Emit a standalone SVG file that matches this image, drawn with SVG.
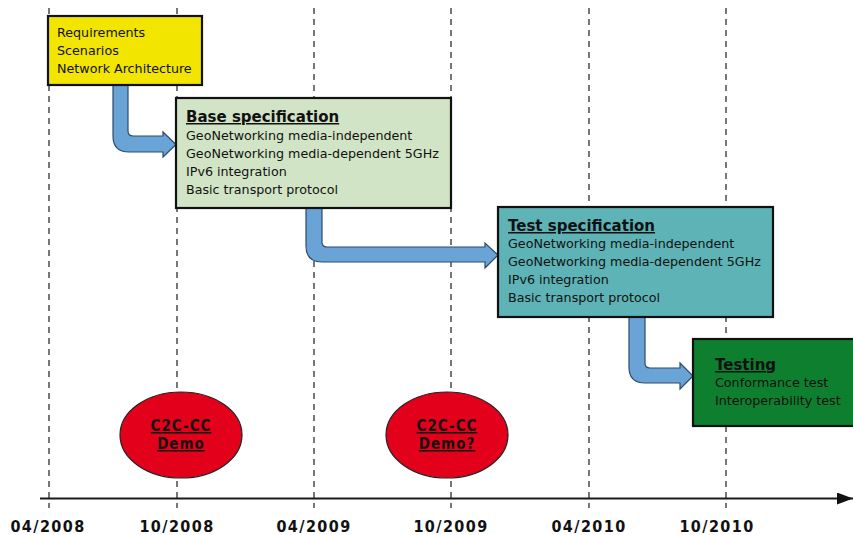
<svg xmlns="http://www.w3.org/2000/svg" width="853" height="535" viewBox="0 0 853 535">
<style>
.grid{stroke:#2b2f3a;stroke-width:1.3;stroke-dasharray:6 5;fill:none}
.box{stroke:#111;stroke-width:2.2}
.t{font-family:"DejaVu Sans","Verdana",sans-serif;font-size:12.7px;fill:#111}
.h{font-family:"DejaVu Sans","Verdana",sans-serif;font-size:15px;font-weight:bold;fill:#111;text-decoration:underline}
.arr{fill:#6aa4d6;stroke:#2c4a6b;stroke-width:1.2;stroke-linejoin:miter}
.demo{fill:#e2001b;stroke:#222;stroke-width:1.2}
.dt{font-family:"DejaVu Sans Condensed","DejaVu Sans",sans-serif;font-stretch:condensed;font-size:15px;font-weight:bold;fill:#111;text-decoration:underline;text-anchor:middle;letter-spacing:1px}
.lbl{font-family:"DejaVu Sans Condensed","DejaVu Sans",sans-serif;font-stretch:condensed;font-size:16px;font-weight:bold;fill:#111;text-anchor:middle;letter-spacing:1.4px}
</style>
<defs>
<marker id="axhead" markerWidth="16" markerHeight="12" refX="16" refY="6" orient="auto" markerUnits="userSpaceOnUse">
<path d="M0,0 L16,6 L0,12 Z" fill="#111"/>
</marker>
</defs>
<rect width="853" height="535" fill="#fff"/>
<g id="grid">
<line class="grid" x1="49" y1="8" x2="49" y2="508"/>
<line class="grid" x1="177" y1="8" x2="177" y2="508"/>
<line class="grid" x1="314" y1="8" x2="314" y2="508"/>
<line class="grid" x1="451" y1="8" x2="451" y2="508"/>
<line class="grid" x1="589" y1="8" x2="589" y2="508"/>
<line class="grid" x1="726" y1="8" x2="726" y2="508"/>
</g>
<g id="axis">
<line x1="40" y1="498.5" x2="853" y2="498.5" stroke="#1a1a1a" stroke-width="2" marker-end="url(#axhead)"/>
<text class="lbl" x="48" y="532">04/2008</text>
<text class="lbl" x="177" y="532">10/2008</text>
<text class="lbl" x="314" y="532">04/2009</text>
<text class="lbl" x="451" y="532">10/2009</text>
<text class="lbl" x="589" y="532">04/2010</text>
<text class="lbl" x="717" y="532">10/2010</text>
</g>
<g id="connectors">
<path class="arr" d="M113,85 H128 V131 Q128,136 133,136 H163 V132 L176,144.5 L163,157 V152 H129 Q113,152 113,136 Z"/>
<path class="arr" d="M306,208 H322 V242 Q322,247 327,247 H485 V243 L498,255 L485,268 V262 H322 Q306,262 306,246 Z"/>
<path class="arr" d="M629,317 H645 V363 Q645,368 650,368 H680 V363 L693,376 L680,389 V383 H645 Q629,383 629,367 Z"/>
</g>
<g id="requirements">
<rect class="box" x="48" y="16" width="154" height="69" fill="#f2e500" stroke-width="1.6"/>
<text class="t" x="57" y="37">Requirements</text>
<text class="t" x="57" y="55">Scenarios</text>
<text class="t" x="57" y="73">Network Architecture</text>
</g>
<g id="base-spec">
<rect class="box" x="176" y="98" width="275" height="110" fill="#d1e4c5"/>
<text class="h" x="186" y="122">Base specification</text>
<text class="t" x="186" y="140">GeoNetworking media-independent</text>
<text class="t" x="186" y="158">GeoNetworking media-dependent 5GHz</text>
<text class="t" x="186" y="176">IPv6 integration</text>
<text class="t" x="186" y="194">Basic transport protocol</text>
</g>
<g id="test-spec">
<rect class="box" x="498" y="207" width="275" height="110" fill="#5db3b5"/>
<text class="h" x="508" y="231">Test specification</text>
<text class="t" x="508" y="248">GeoNetworking media-independent</text>
<text class="t" x="508" y="266">GeoNetworking media-dependent 5GHz</text>
<text class="t" x="508" y="284">IPv6 integration</text>
<text class="t" x="508" y="302">Basic transport protocol</text>
</g>
<g id="testing">
<rect class="box" x="693" y="339" width="170" height="87" fill="#0d7f2f"/>
<text class="h" x="715" y="370">Testing</text>
<text class="t" x="715" y="387">Conformance test</text>
<text class="t" x="715" y="405">Interoperability test</text>
</g>
<g id="demo1">
<ellipse class="demo" cx="181" cy="435" rx="61" ry="43"/>
<text class="dt" x="181" y="431">C2C-CC</text>
<text class="dt" x="181" y="449">Demo</text>
</g>
<g id="demo2">
<ellipse class="demo" cx="447" cy="435" rx="61" ry="43"/>
<text class="dt" x="447" y="431">C2C-CC</text>
<text class="dt" x="447" y="449">Demo?</text>
</g>
</svg>
